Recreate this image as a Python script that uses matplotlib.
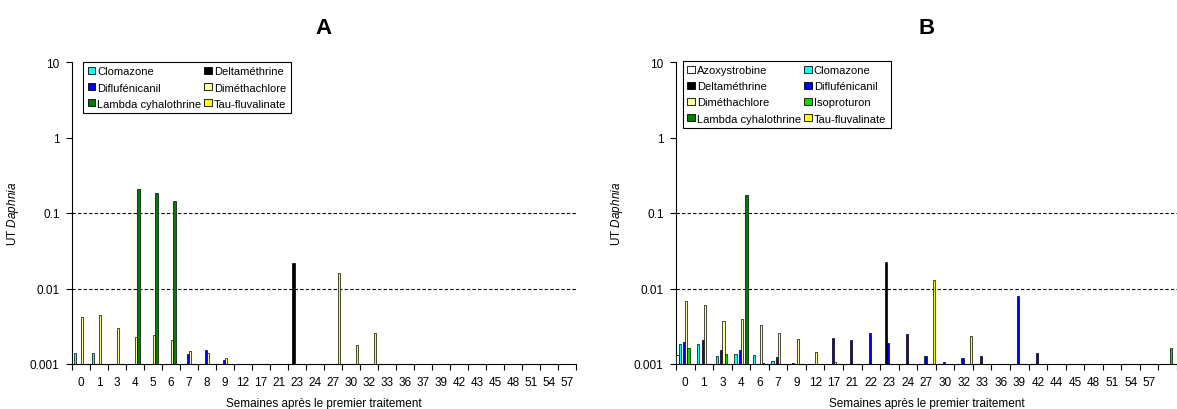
import matplotlib
matplotlib.use("Agg")
import matplotlib.pyplot as plt
import numpy as np
from matplotlib.patches import Patch
from matplotlib.ticker import FixedLocator, FixedFormatter, NullFormatter, NullLocator

plt.rcParams['font.family'] = ['Liberation Sans', 'DejaVu Sans']
plt.rcParams['mathtext.fontset'] = 'custom'
plt.rcParams['mathtext.rm'] = 'Liberation Sans'
plt.rcParams['mathtext.it'] = 'Liberation Sans:italic'

# ---- categories (weeks after first treatment) ----
weeks_a = ["0", "1", "3", "4", "5", "6", "7", "8", "9", "12", "17", "21", "23", "24",
           "27", "30", "32", "33", "36", "37", "39", "42", "43", "45", "48", "51", "54", "57"]
weeks_b = ["0", "1", "3", "4", "6", "7", "9", "12", "17", "21", "22", "23", "24", "27",
           "30", "32", "33", "36", "39", "42", "44", "45", "48", "51", "54", "57", ""]

# ---- panel A : toxic units per substance, by week ----
clomazone_a = {"0": 0.0014, "1": 0.0014}
deltamethrine_a = {"23": 0.022}
diflufenicanil_a = {"7": 0.00136, "8": 0.00152, "9": 0.00114}
dimethachlore_a = {"0": 0.0042, "1": 0.0044, "3": 0.0030, "4": 0.0023, "5": 0.0024,
                   "6": 0.0021, "7": 0.0015, "8": 0.0014, "9": 0.00121}
lambda_a = {"4": 0.206, "5": 0.186, "6": 0.143}
tau_a = {"27": 0.0159, "30": 0.0018, "32": 0.00255}

# ---- panel B ----
azoxystrobine_b = {"0": 0.00132}
clomazone_b = {"0": 0.00184, "1": 0.00184, "3": 0.00126, "4": 0.00136, "6": 0.00133,
               "7": 0.0011}
deltamethrine_b = {"9": 0.00103, "23": 0.0222}
diflufenicanil_b = {"0": 0.00195, "1": 0.0021, "3": 0.00153, "4": 0.00153, "7": 0.00124,
                    "17": 0.00219, "21": 0.00206, "22": 0.00257, "23": 0.00188,
                    "24": 0.0025, "27": 0.00129, "30": 0.00105, "32": 0.0012,
                    "33": 0.00129, "39": 0.0079, "42": 0.0014}
dimethachlore_b = {"0": 0.0068, "1": 0.0060, "3": 0.00375, "4": 0.0039, "6": 0.00329,
                   "7": 0.00257, "9": 0.00214, "12": 0.00146, "17": 0.00106}
isoproturon_b = {"0": 0.00161, "3": 0.00134, "6": 0.00103, "": 0.00161}
lambda_b = {"4": 0.173}
tau_b = {"27": 0.013, "32": 0.00237}

colors = {
    "Azoxystrobine": "#FFFFFF",
    "Clomazone": "#00FFFF",
    "Deltaméthrine": "#000000",
    "Diflufénicanil": "#0000FF",
    "Diméthachlore": "#FFFF99",
    "Isoproturon": "#00E000",
    "Lambda cyhalothrine": "#008000",
    "Tau-fluvalinate": "#FFFF00",
}

series_a = [("Clomazone", clomazone_a), ("Deltaméthrine", deltamethrine_a),
            ("Diflufénicanil", diflufenicanil_a), ("Diméthachlore", dimethachlore_a),
            ("Lambda cyhalothrine", lambda_a), ("Tau-fluvalinate", tau_a)]
series_b = [("Azoxystrobine", azoxystrobine_b), ("Clomazone", clomazone_b),
            ("Deltaméthrine", deltamethrine_b), ("Diflufénicanil", diflufenicanil_b),
            ("Diméthachlore", dimethachlore_b), ("Isoproturon", isoproturon_b),
            ("Lambda cyhalothrine", lambda_b), ("Tau-fluvalinate", tau_b)]

FS = 8.5
LEG_FS = 8
W, H = 1177, 410
fig = plt.figure(figsize=(W / 100, H / 100), dpi=100)


def panel(rect, weeks, series, bar_w, title, legend_order, leg_anchor):
    ax = fig.add_axes(rect)
    ax.set_yscale("log")
    n = len(series)
    for k, (name, vals) in enumerate(series):
        xs = [weeks.index(w) for w in vals]
        hs = [vals[w] for w in vals]
        off = (k - (n - 1) / 2) * bar_w
        ax.bar(np.array(xs) + off, hs, width=bar_w, color=colors[name],
               edgecolor="black", linewidth=0.5, zorder=3)
    for lvl in (0.01, 0.1):
        ax.axhline(lvl, color="black", lw=0.8, ls=(0, (3, 2)), zorder=1)
    ax.set_ylim(0.001, 10)
    ax.set_xlim(-0.5, len(weeks) - 0.5)
    ax.yaxis.set_major_locator(FixedLocator([0.001, 0.01, 0.1, 1, 10]))
    ax.yaxis.set_major_formatter(FixedFormatter(["0.001", "0.01", "0.1", "1", "10"]))
    ax.yaxis.set_minor_locator(NullLocator())
    ax.tick_params(axis="y", which="major", length=4, width=0.8, pad=5,
                   labelsize=FS, direction="out")
    ax.xaxis.set_major_locator(FixedLocator(np.arange(len(weeks) + 1) - 0.5))
    ax.xaxis.set_major_formatter(NullFormatter())
    ax.xaxis.set_minor_locator(FixedLocator(np.arange(len(weeks))))
    ax.xaxis.set_minor_formatter(FixedFormatter(weeks))
    ax.tick_params(axis="x", which="major", length=4, width=0.8, direction="out")
    ax.tick_params(axis="x", which="minor", length=0, pad=8.5, labelsize=FS)
    for s in ("top", "right"):
        ax.spines[s].set_visible(False)
    for s in ("left", "bottom"):
        ax.spines[s].set_linewidth(0.8)
    ax.set_xlabel("Semaines après le premier traitement", fontsize=FS)
    ax.xaxis.set_label_coords(0.5, -0.128)
    ax.xaxis.label.set_va("center")
    ax.set_ylabel(r"UT $\mathit{Daphnia}$", fontsize=FS)
    ax.yaxis.set_label_coords(-0.117, 0.5)
    ax.yaxis.label.set_va("center")
    ax.text(0.5, 1 + 35 / 302, title, transform=ax.transAxes, ha="center",
            va="center", fontsize=16, fontweight="bold")
    names = [series[i][0] for i in legend_order]
    handles = [Patch(facecolor=colors[nm], edgecolor="black", linewidth=0.6)
               for nm in names]
    leg = ax.legend(handles, names, ncol=2, loc="upper left", bbox_to_anchor=leg_anchor,
                    borderaxespad=0, fontsize=LEG_FS, frameon=True, fancybox=False,
                    edgecolor="black", framealpha=1, handlelength=0.65,
                    handleheight=0.65, handletextpad=0.2, labelspacing=0.55,
                    columnspacing=0.3, borderpad=0.4)
    leg.get_frame().set_linewidth(0.8)
    return ax


bottom = (H - 365) / H
height = (365 - 63) / H
panel([72 / W, bottom, 504 / W, height], weeks_a, series_a, 0.133, "A",
      [0, 2, 4, 1, 3, 5], (0.022, 1.0))
panel([676 / W, bottom, 501 / W, height], weeks_b, series_b, 0.1185, "B",
      [0, 2, 4, 6, 1, 3, 5, 7], (0.014, 1.004))

fig.savefig("out.png", dpi=100)
